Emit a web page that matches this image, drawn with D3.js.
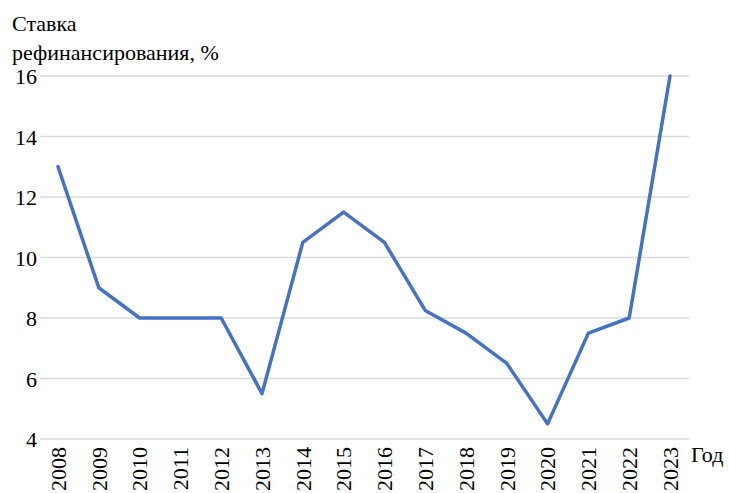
<!DOCTYPE html>
<html>
<head>
<meta charset="utf-8">
<script src="https://cdn.jsdelivr.net/npm/d3@7"></script>
<style>
  #chart text, #chart .tick text, svg#chart g text { font-family: "Liberation Serif", Tinos, "Times New Roman" !important; font-size: 22px !important; }
</style>
</head>
<body style="margin:0;background:#fff">
<svg id="chart" width="729" height="493" style="display:block"></svg>
<script>
const years = ["2008","2009","2010","2011","2012","2013","2014","2015","2016","2017","2018","2019","2020","2021","2022","2023"];
const rates = [13, 9, 8, 8, 8, 5.5, 10.5, 11.5, 10.5, 8.25, 7.5, 6.5, 4.5, 7.5, 8, 16];
const yTicks = [4, 6, 8, 10, 12, 14, 16];
const titleLines = ["Ставка", "рефинансирования, %"];
const xTitle = "Год";

const svg = d3.select("#chart");
const fam = '"Liberation Serif", Tinos, "Times New Roman"';

const x = d3.scalePoint().domain(years).range([58, 670]);
const y = d3.scaleLinear().domain([4, 16]).range([439, 76]);

// gridlines
svg.append("g")
  .selectAll("line")
  .data(yTicks)
  .join("line")
  .attr("x1", 40).attr("x2", 689)
  .attr("y1", d => y(d)).attr("y2", d => y(d))
  .attr("stroke", "#d9d9d9").attr("stroke-width", 1.5);

// y axis labels
const yAxis = d3.axisLeft(y).tickValues(yTicks).tickSize(0).tickPadding(0).tickFormat(d3.format("d"));
const gy = svg.append("g").attr("transform", "translate(37,0)").call(yAxis);
gy.attr("font-family", fam).attr("font-size", 22);
gy.select(".domain").remove();
gy.selectAll("text").attr("font-family", fam).attr("fill", "#000").attr("dy", "0.35em");

// x axis labels
const xAxis = d3.axisBottom(x).tickSize(0).tickPadding(0);
const gx = svg.append("g").attr("transform", "translate(0,447)").call(xAxis);
gx.attr("font-family", fam).attr("font-size", 22);
gx.select(".domain").remove();
gx.selectAll("text")
  .attr("font-family", fam).attr("fill", "#000")
  .attr("text-anchor", "end")
  .attr("transform", "rotate(-90)")
  .attr("x", 0).attr("y", 0).attr("dy", "0.33em");

// line
const line = d3.line()
  .x((d, i) => x(years[i]))
  .y(d => y(d))
  .curve(d3.curveLinear);

svg.append("path")
  .datum(rates)
  .attr("d", line)
  .attr("fill", "none")
  .attr("stroke", "#4472c4")
  .attr("stroke-width", 3.5)
  .attr("stroke-linejoin", "round")
  .attr("stroke-linecap", "round");

// titles
const addText = (xp, yp, t) => svg.append("text").attr("x", xp).attr("y", yp)
  .attr("font-family", fam).attr("font-size", 22).attr("fill", "#000").text(t);
addText(12, 31, titleLines[0]);
addText(12, 60, titleLines[1]);
addText(691, 462, xTitle);
</script>
</body>
</html>
